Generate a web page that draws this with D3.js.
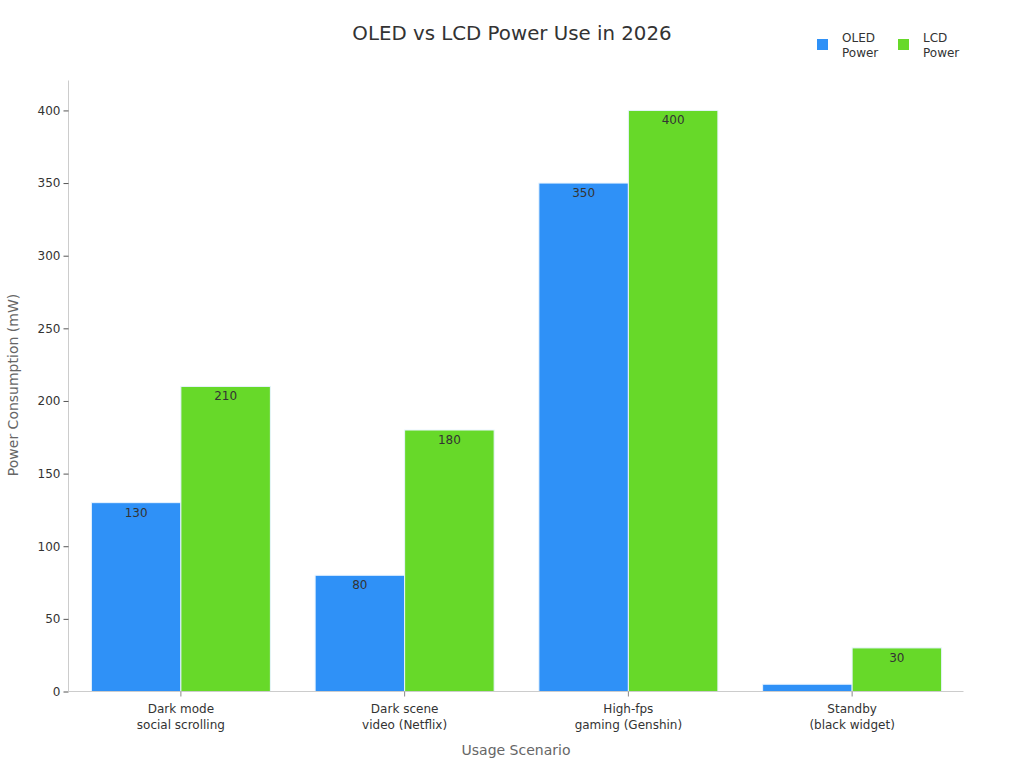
<!DOCTYPE html>
<html><head><meta charset="utf-8">
<script src="https://cdn.jsdelivr.net/npm/d3@7"></script>
<style>body{margin:0;background:#fff;font-family:"DejaVu Sans",sans-serif;}</style>
</head><body>
<svg id="c" width="1024" height="768"></svg>
<script>
const categories = [["Dark mode","social scrolling"],["Dark scene","video (Netflix)"],["High-fps","gaming (Genshin)"],["Standby","(black widget)"]];
const seriesNames = ["OLED Power","LCD Power"];
const oledValues = [130, 80, 350, 5];
const lcdValues = [210, 180, 400, 30];
const yTicks = [0,50,100,150,200,250,300,350,400];
const colors = ["#2f91f7","#67d929"];

const svg = d3.select("#c");
const m = {l:68.5, r:963.5, t:80.5, b:691.5};
const x = d3.scaleBand().domain(d3.range(categories.length)).range([m.l+0.5, m.r+0.5]).paddingInner(0.2).paddingOuter(0.1);
const x1 = d3.scaleBand().domain([0,1]).range([0, x.bandwidth()]);
const y = d3.scaleLinear().domain([0, 420.6]).range([m.b, m.t]);
const series = [oledValues, lcdValues];

svg.append("text").attr("x",512).attr("y",40).attr("text-anchor","middle")
  .attr("font-size",19.8).attr("fill","#333").text("OLED vs LCD Power Use in 2026");

// bars
series.forEach((vals, si) => {
  const g = svg.append("g");
  g.selectAll("rect").data(vals).join("rect")
    .attr("x",(d,i)=>x(i)+x1(si)).attr("y",d=>y(d))
    .attr("width",x1.bandwidth()).attr("height",d=>y(0)-y(d))
    .attr("fill",colors[si]).attr("stroke","#e8f4ff").attr("stroke-width",1);
  g.selectAll("text").data(vals).join("text")
    .filter(d => y(0)-y(d) > 14)
    .attr("x",(d,i)=>x(i)+x1(si)+x1.bandwidth()/2).attr("y",d=>y(d)+14)
    .attr("text-anchor","middle").attr("font-size",12).attr("fill","#333").text(d=>d);
});

// y axis
const ya = svg.append("g").attr("transform",`translate(${m.l},0)`)
  .call(d3.axisLeft(y).tickValues(yTicks).tickSize(5).tickPadding(3));
ya.select(".domain").attr("stroke","#ccc").attr("d",`M0,${m.t}V${m.b}`);
ya.selectAll(".tick line").attr("stroke","#555");
ya.selectAll(".tick text").attr("font-size",12).attr("fill","#333").attr("font-family","DejaVu Sans");

// x axis
const xa = svg.append("g").attr("transform",`translate(0,${m.b})`)
  .call(d3.axisBottom(x).tickSize(5).tickFormat(""));
xa.select(".domain").attr("stroke","#ccc").attr("d",`M${m.l},0H${m.r}`);
xa.selectAll(".tick line").attr("stroke","#888");
categories.forEach((c,i)=>{
  const t = svg.append("text").attr("x",x(i)+x.bandwidth()/2).attr("y",m.b+21)
    .attr("text-anchor","middle").attr("font-size",12).attr("fill","#333");
  c.forEach((line,j)=>t.append("tspan").attr("x",x(i)+x.bandwidth()/2).attr("dy",j?16:0).text(line));
});

svg.append("text").attr("x",516).attr("y",755).attr("text-anchor","middle")
  .attr("font-size",14).attr("fill","#666").text("Usage Scenario");
svg.append("text").attr("transform","translate(18,385) rotate(-90)").attr("text-anchor","middle")
  .attr("font-size",14).attr("fill","#666").text("Power Consumption (mW)");

// legend
const legX = [817, 898];
seriesNames.forEach((n,i)=>{
  svg.append("rect").attr("x",legX[i]).attr("y",39).attr("width",11).attr("height",11).attr("fill",colors[i]);
  const t = svg.append("text").attr("x",legX[i]+25).attr("y",42).attr("font-size",12).attr("fill","#333");
  n.split(" ").forEach((w,j)=>t.append("tspan").attr("x",legX[i]+25).attr("dy",j?15:0).text(w));
});
</script>
</body></html>
